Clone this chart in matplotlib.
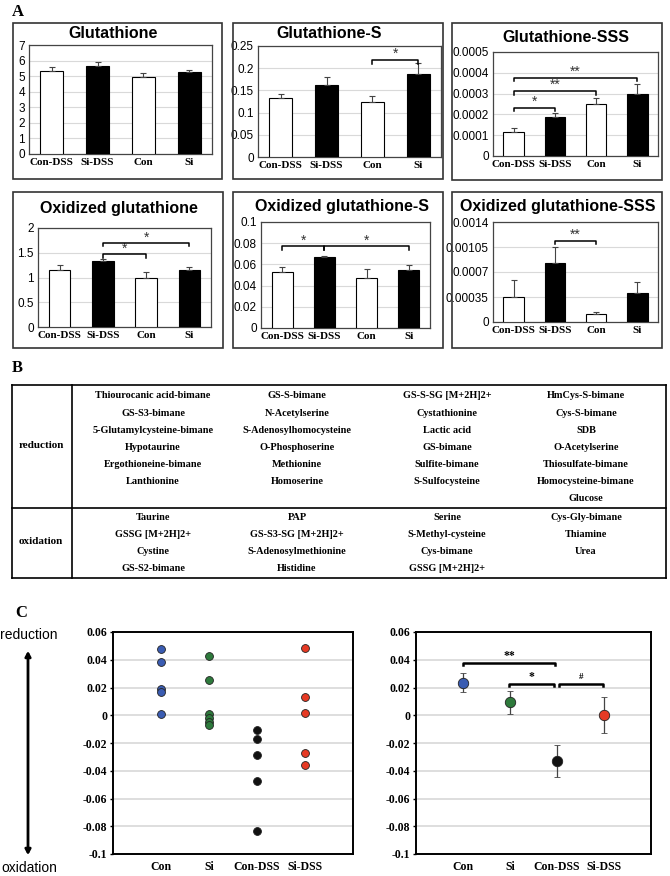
import numpy as np
import matplotlib.pyplot as plt
from matplotlib.patches import Rectangle, FancyArrowPatch
from matplotlib.lines import Line2D

SERIF = 'Liberation Serif'
SANS = 'Liberation Sans'

# ---------------- data ----------------
groups = ['Con-DSS', 'Si-DSS', 'Con', 'Si']
bar_colors = ['white', 'black', 'white', 'black']

gsh_mean = [5.33, 5.63, 4.92, 5.29]
gsh_err = [0.24, 0.26, 0.30, 0.10]
gshs_mean = [0.134, 0.163, 0.123, 0.187]
gshs_err = [0.009, 0.018, 0.015, 0.024]
gshsss_mean = [0.000113, 0.000188, 0.000248, 0.000300]
gshsss_err = [0.000024, 0.000020, 0.000033, 0.000047]
gssg_mean = [1.16, 1.33, 1.00, 1.16]
gssg_err = [0.09, 0.035, 0.11, 0.05]
gssgs_mean = [0.053, 0.067, 0.047, 0.055]
gssgs_err = [0.005, 0.001, 0.009, 0.0045]
gssgsss_mean = [0.00035, 0.00082, 0.00011, 0.00040]
gssgsss_err = [0.000245, 0.00023, 0.00003, 0.000165]

# significance brackets: (from, to, y, label)
gshs_sig = [(2, 3, 0.218, '*')]
gshsss_sig = [(0, 1, 0.000232, '*'), (0, 2, 0.000313, '**'), (0, 3, 0.000377, '**')]
gssg_sig = [(1, 2, 1.47, '*'), (1, 3, 1.70, '*')]
gssgs_sig = [(0, 1, 0.077, '*'), (1, 3, 0.077, '*')]
gssgsss_sig = [(1, 2, 0.00114, '**')]

# table B
red_c1 = ['Thiourocanic acid-bimane', 'GS-S3-bimane', '5-Glutamylcysteine-bimane',
          'Hypotaurine', 'Ergothioneine-bimane', 'Lanthionine']
red_c2 = ['GS-S-bimane', 'N-Acetylserine', 'S-Adenosylhomocysteine',
          'O-Phosphoserine', 'Methionine', 'Homoserine']
red_c3 = ['GS-S-SG [M+2H]2+', 'Cystathionine', 'Lactic acid', 'GS-bimane',
          'Sulfite-bimane', 'S-Sulfocysteine']
red_c4 = ['HmCys-S-bimane', 'Cys-S-bimane', 'SDB', 'O-Acetylserine',
          'Thiosulfate-bimane', 'Homocysteine-bimane', 'Glucose']
ox_c1 = ['Taurine', 'GSSG [M+2H]2+', 'Cystine', 'GS-S2-bimane']
ox_c2 = ['PAP', 'GS-S3-SG [M+2H]2+', 'S-Adenosylmethionine', 'Histidine']
ox_c3 = ['Serine', 'S-Methyl-cysteine', 'Cys-bimane', 'GSSG [M+2H]2+']
ox_c4 = ['Cys-Gly-bimane', 'Thiamine', 'Urea']

# panel C
c_groups = ['Con', 'Si', 'Con-DSS', 'Si-DSS']
c_colors = ['#3a5cb2', '#2e7a3c', '#111111', '#e63a24']
con_pts = [0.0475, 0.0384, 0.019, 0.0166, 0.0008]
si_pts = [0.0427, 0.0257, 0.0012, -0.0017, -0.0048, -0.0072]
condss_pts = [-0.0108, -0.0168, -0.0283, -0.0472, -0.0832]
sidss_pts = [0.0485, 0.0132, 0.0017, -0.0271, -0.0362]
c_mean = [0.0235, 0.0094, -0.0329, 0.0001]
c_err = [0.0068, 0.0083, 0.0115, 0.0128]
c_sig = [(1, 2.96, 0.0378, '**'), (1.97, 2.93, 0.0225, '*'), (3.05, 3.98, 0.0225, '#')]

# ---------------- layout helpers ----------------
W, H = 670, 876
fig = plt.figure(figsize=(W / 100, H / 100), dpi=100)


def px_axes(l, t, r, b):
    return fig.add_axes([l / W, 1 - b / H, (r - l) / W, (b - t) / H])


def fx(x):
    return x / W


def fy(y):
    return 1 - y / H


def fig_line(x0, y0, x1, y1, lw=1.2, color='black'):
    fig.add_artist(Line2D([fx(x0), fx(x1)], [fy(y0), fy(y1)], lw=lw, color=color,
                          transform=fig.transFigure))


def bracket(ax, i, j, y, label, drop, star_gap, fs=10, color='#333333'):
    ax.plot([i, i, j, j], [y - drop, y, y, y - drop], color='black', lw=1.1,
            clip_on=False, zorder=5)
    ax.text((i + j) / 2, y + star_gap, label, ha='center', va='center',
            fontsize=fs, color=color, family=SANS, clip_on=False)


def bar_panel(box, axbox, title, title_xy, mean, err, ymax, ticks, ticklabels, sig):
    bl, bt, br, bb = box
    fig.add_artist(Rectangle((fx(bl), fy(bb)), (br - bl) / W, (bb - bt) / H,
                             fill=False, lw=1.2, edgecolor='#333333',
                             transform=fig.transFigure))
    ax = px_axes(*axbox)
    x = np.arange(len(groups))
    ax.bar(x, mean, width=0.5, color=bar_colors, edgecolor='black', lw=0.8,
           yerr=[np.zeros(len(err)), err],
           error_kw=dict(ecolor='#444444', elinewidth=0.8, capsize=2, capthick=0.8),
           zorder=3)
    ax.set_xlim(-0.5, 3.5)
    ax.set_ylim(0, ymax)
    ax.set_yticks(ticks)
    ax.set_yticklabels(ticklabels, family=SANS, fontsize=8.5)
    ax.set_xticks(x)
    ax.set_xticklabels(groups, family=SERIF, fontweight='bold', fontsize=8)
    ax.tick_params(length=0, pad=3)
    ax.yaxis.grid(True, color='#d9d9d9', lw=0.8)
    ax.set_axisbelow(True)
    for s in ax.spines.values():
        s.set_color('#444444')
        s.set_linewidth(0.9)
    for (i, j, y, lab) in sig:
        bracket(ax, i, j, y, lab, drop=ymax * 0.035, star_gap=ymax * 0.055)
    fig.text(fx(title_xy[0]), fy(title_xy[1]), title, ha='center', va='center',
             family=SANS, fontweight='bold', fontsize=11.5)
    return ax


# ---------------- panel A ----------------
fig.text(fx(12), fy(12), 'A', family=SERIF, fontweight='bold', fontsize=12,
         ha='left', va='center')

bar_panel((13, 23, 222, 179), (29, 45, 212, 154), 'Glutathione', (113, 34),
          gsh_mean, gsh_err, 7, range(8), [str(v) for v in range(8)], [])
bar_panel((233, 23, 443, 179), (258, 46, 441, 157), 'Glutathione-S', (329, 34),
          gshs_mean, gshs_err, 0.25, np.arange(0, 0.26, 0.05),
          ['0', '0.05', '0.1', '0.15', '0.2', '0.25'], gshs_sig)
bar_panel((452, 23, 662, 180), (493, 52, 658, 156), 'Glutathione-SSS', (566, 38),
          gshsss_mean, gshsss_err, 0.0005, np.arange(0, 0.00051, 0.0001),
          ['0', '0.0001', '0.0002', '0.0003', '0.0004', '0.0005'], gshsss_sig)
bar_panel((13, 192, 223, 348), (38, 228, 211, 327), 'Oxidized glutathione', (119, 209),
          gssg_mean, gssg_err, 2, [0, 0.5, 1, 1.5, 2],
          ['0', '0.5', '1', '1.5', '2'], gssg_sig)
bar_panel((233, 192, 443, 348), (261, 222, 430, 328), 'Oxidized glutathione-S', (342, 207),
          gssgs_mean, gssgs_err, 0.1, [0, 0.02, 0.04, 0.06, 0.08, 0.1],
          ['0', '0.02', '0.04', '0.06', '0.08', '0.1'], gssgs_sig)
bar_panel((452, 192, 662, 348), (493, 222, 658, 322), 'Oxidized glutathione-SSS', (558, 207),
          gssgsss_mean, gssgsss_err, 0.0014, [0, 0.00035, 0.0007, 0.00105, 0.0014],
          ['0', '0.00035', '0.0007', '0.00105', '0.0014'], gssgsss_sig)

# ---------------- panel B ----------------
fig.text(fx(12), fy(368), 'B', family=SERIF, fontweight='bold', fontsize=12,
         ha='left', va='center')
t_l, t_r, t_t, t_b, t_mid, t_v = 12, 666, 385, 578, 508, 72
fig_line(t_l, t_t, t_r, t_t)
fig_line(t_l, t_b, t_r, t_b)
fig_line(t_l, t_t, t_l, t_b)
fig_line(t_r, t_t, t_r, t_b)
fig_line(t_l, t_mid, t_r, t_mid)
fig_line(t_v, t_t, t_v, t_b)

fig.text(fx(41), fy(446), 'reduction', family=SERIF, fontweight='bold', fontsize=8,
         ha='center', va='center')
fig.text(fx(41), fy(542), 'oxidation', family=SERIF, fontweight='bold', fontsize=8,
         ha='center', va='center')

col_x = [153, 297, 447, 586]
for cx, names in zip(col_x, [red_c1, red_c2, red_c3, red_c4]):
    for k, name in enumerate(names):
        fig.text(fx(cx), fy(396 + 17.1 * k), name, family=SERIF, fontweight='bold',
                 fontsize=7.4, ha='center', va='center')
for cx, names in zip(col_x, [ox_c1, ox_c2, ox_c3, ox_c4]):
    for k, name in enumerate(names):
        fig.text(fx(cx), fy(518 + 16.8 * k), name, family=SERIF, fontweight='bold',
                 fontsize=7.4, ha='center', va='center')

# ---------------- panel C ----------------
fig.text(fx(15), fy(613), 'C', family=SERIF, fontweight='bold', fontsize=12,
         ha='left', va='center')
fig.text(fx(29), fy(635), 'reduction', family=SANS, fontsize=10, ha='center', va='center')
fig.text(fx(29), fy(868), 'oxidation', family=SANS, fontsize=10, ha='center', va='center')
fig.add_artist(FancyArrowPatch((fx(28), fy(858)), (fx(28), fy(648)),
                               arrowstyle='<|-|>,head_length=3,head_width=1.6',
                               lw=2, color='black', transform=fig.transFigure))

c_ticks = [-0.1, -0.08, -0.06, -0.04, -0.02, 0, 0.02, 0.04, 0.06]


def c_axes(box):
    ax = px_axes(*box)
    ax.set_xlim(0, 5)
    ax.set_ylim(-0.1, 0.06)
    ax.set_yticks(c_ticks)
    ax.set_yticklabels(['%g' % v for v in c_ticks], family=SERIF, fontweight='bold',
                       fontsize=8.5)
    ax.set_xticks([1, 2, 3, 4])
    ax.set_xticklabels(c_groups, family=SERIF, fontweight='bold', fontsize=8.5)
    ax.tick_params(axis='x', length=0, pad=5)
    ax.tick_params(axis='y', length=2, width=1, pad=2)
    ax.yaxis.grid(True, color='#d4d4d4', lw=1.1)
    ax.set_axisbelow(True)
    for s in ax.spines.values():
        s.set_linewidth(1.4)
        s.set_color('black')
    return ax


axL = c_axes((113, 632, 353, 854))
for k, pts in enumerate([con_pts, si_pts, condss_pts, sidss_pts]):
    axL.scatter(np.full(len(pts), k + 1), pts, s=32, color=c_colors[k],
                edgecolor='#222222', lw=0.6, zorder=3)

axR = c_axes((416, 632, 651, 854))
for k in range(4):
    axR.errorbar(k + 1, c_mean[k], yerr=c_err[k], fmt='o', ms=7.5, mfc=c_colors[k],
                 mec='#222222', mew=0.6, ecolor='#444444', elinewidth=0.9,
                 capsize=2, capthick=0.9, zorder=3)
for (i, j, y, lab) in c_sig:
    axR.plot([i, i, j, j], [y - 0.0015, y, y, y - 0.0015], color='black', lw=1.8,
             zorder=4)
    axR.text((i + j) / 2, y + 0.005, lab, ha='center', va='center',
             family=SERIF, fontweight='bold', fontsize=8.5 if lab != '#' else 6.5)

fig.savefig('out.png', dpi=100)
